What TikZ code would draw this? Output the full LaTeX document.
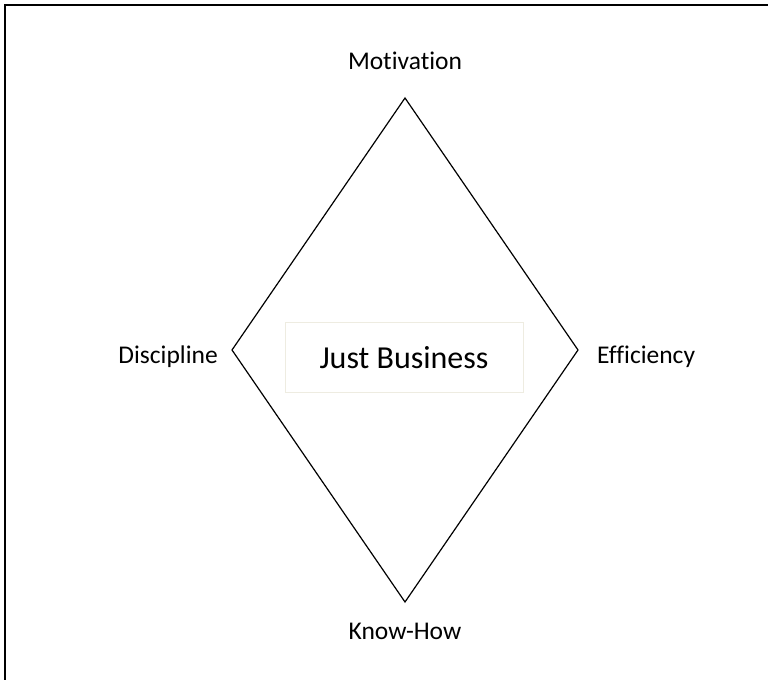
\documentclass[tikz,border=0pt]{standalone}
\usepackage{fontspec}
\setmainfont{Carlito}[Ligatures={NoCommon}]
\definecolor{boxline}{HTML}{EEECE1}
\begin{document}
\begin{tikzpicture}[x=1pt,y=1pt,
  lbl/.style={inner sep=0pt,font=\fontsize{25.5}{30}\selectfont},
  diam/.style={draw=black,line width=1.2pt,line join=miter}]
\useasboundingbox (0,0) rectangle (768,680);
% frame (top and left only visible)
\draw[line width=2pt] (768,675) -- (5,675) -- (5,0);
% diamond corners
\coordinate (T) at (405,582);
\coordinate (B) at (405,78);
\coordinate (L) at (232,330);
\coordinate (R) at (578,330);
\draw[diam] (T) -- (R) -- (B) -- (L) -- cycle;
% centre box
\node[draw=boxline,line width=1pt,minimum width=238pt,minimum height=70pt,inner sep=0pt,
      font=\fontsize{32}{36}\selectfont] (box) at (404,322) {Just Business};
% labels
\node[lbl,anchor=base] (mot) at (405,610) {Motivation};
\node[lbl,anchor=base east] (dis) at (218,316) {Discipline};
\node[lbl,anchor=base west] (eff) at (597,316) {Efficiency};
\node[lbl,anchor=base] (kh) at (405,41) {Know-How};
\end{tikzpicture}
\end{document}
